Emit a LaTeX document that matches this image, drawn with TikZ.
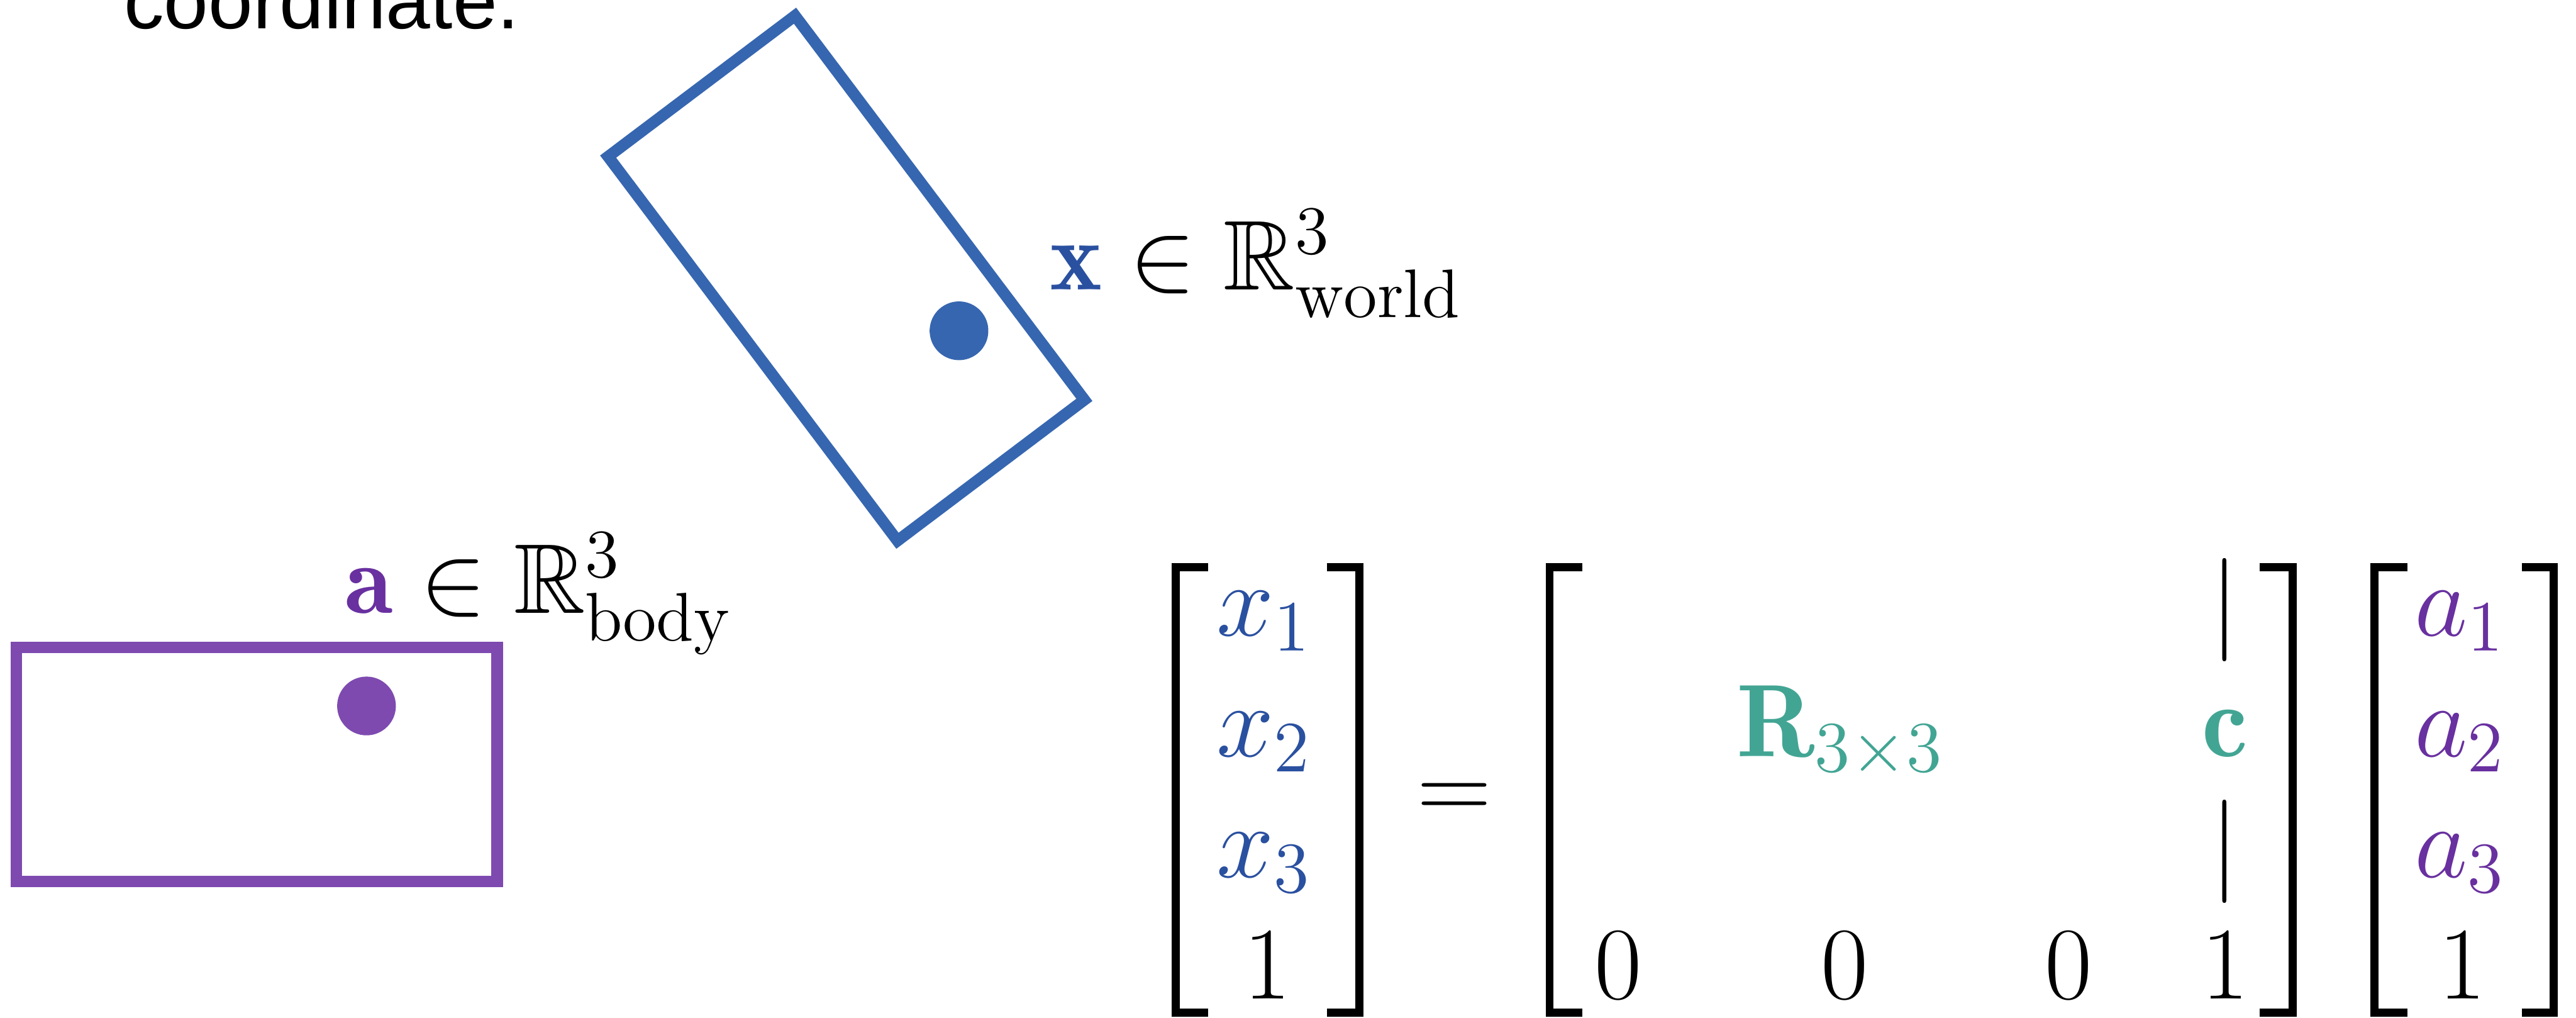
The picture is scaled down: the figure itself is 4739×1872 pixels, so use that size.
\RequirePackage{fix-cm}
\documentclass[tikz,border=0pt]{standalone}
\usepackage{amsmath, amssymb}
\usepackage{fontspec}
\usepackage{tikz}
\usepackage{xcolor}
\newfontfamily\captionsans{Liberation Sans}

\definecolor{worldblue}{RGB}{54,102,176}
\definecolor{worldtext}{RGB}{42,80,160}
\definecolor{bodypurple}{RGB}{126,74,176}
\definecolor{bodytext}{RGB}{105,48,160}
\definecolor{poseteal}{RGB}{66,165,148}

\begin{document}
\begin{tikzpicture}[
  x=0.0333333mm, y=0.0333333mm,
  frame/.style={line width=2pt},
  body_frame/.style={frame, draw=bodypurple},
  world_frame/.style={frame, draw=worldblue},
  label/.style={inner sep=0pt, anchor=base west, font=\LARGE},
  entry/.style={inner sep=0pt, anchor=base, font=\fontsize{18}{22}\selectfont},
  brak/.style={line width=1.37pt},
]
\useasboundingbox (0,0) rectangle (4739,1872);
\clip (0,0) rectangle (4739,1872);

\node[inner sep=0pt, anchor=base west, font=\captionsans\fontsize{13.95}{16}\selectfont] (caption) at (226,1819) {coordinate.};

% body frame
\begin{scope}[shift={(472.25,466.25)}]
  \draw[body_frame] (-442.25,-215.25) rectangle (442.25,215.25);
  \fill[bodypurple] (202,107.5) circle (54);
\end{scope}
% same body, seen in the world
\begin{scope}[shift={(1556.8,1360.3)}, rotate=-53]
  \draw[world_frame] (-442.25,-215.25) rectangle (442.25,215.25);
  \fill[worldblue] (202,107.5) circle (54);
\end{scope}

\node[label] (world_label) at (1930,1339) {$\textcolor{worldtext}{\mathbf{x}}\in\mathbb{R}^{3}_{\mathrm{world}}$};
\node[label] (body_label) at (632,744) {$\textcolor{bodytext}{\mathbf{a}}\in\mathbb{R}^{3}_{\mathrm{body}}$};

% x vector
\node[entry, text=worldtext] (x1) at (2326,703) {$x_1$};
\node[entry, text=worldtext] (x2) at (2326,481) {$x_2$};
\node[entry, text=worldtext] (x3) at (2326,259) {$x_3$};
\node[entry] (x4) at (2332,35) {$1$};
\draw[brak] (2222,829) -| (2163,10) -- (2222,10);
\draw[brak] (2441,829) -| (2501,10) -- (2441,10);

\node[entry] (eq) at (2676,364) {$=$};

% pose matrix
\node[entry, text=poseteal] (rot) at (3386,481) {$\mathbf{R}_{3\times 3}$};
\node[entry, text=poseteal] (trans) at (4093,481) {$\mathbf{c}$};
\node[entry] (bar_top) at (4093,703) {$|$};
\node[entry] (bar_bot) at (4093,259) {$|$};
\node[entry] (m41) at (2977,35) {$0$};
\node[entry] (m42) at (3394,35) {$0$};
\node[entry] (m43) at (3805,35) {$0$};
\node[entry] (m44) at (4093,35) {$1$};
\draw[brak] (2911,829) -| (2851,10) -- (2911,10);
\draw[brak] (4157,829) -| (4218,10) -- (4157,10);

% a vector
\node[entry, text=bodytext] (a1) at (4526,703) {$a_1$};
\node[entry, text=bodytext] (a2) at (4526,481) {$a_2$};
\node[entry, text=bodytext] (a3) at (4526,259) {$a_3$};
\node[entry] (a4) at (4530,35) {$1$};
\draw[brak] (4429,829) -| (4368,10) -- (4429,10);
\draw[brak] (4639,829) -| (4698,10) -- (4639,10);

\end{tikzpicture}
\end{document}
